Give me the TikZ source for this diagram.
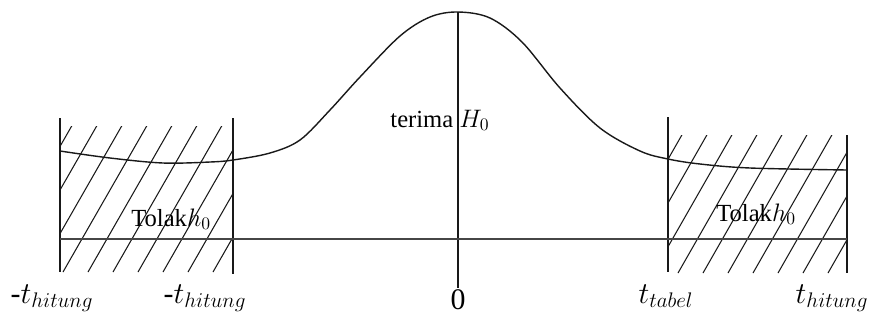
\documentclass[tikz,border=0pt]{standalone}
\usepackage{fontspec}
\setmainfont{Liberation Serif}
\usetikzlibrary{positioning}
\definecolor{inkline}{RGB}{25,25,25}
\definecolor{baseink}{RGB}{70,70,70}

\tikzset{
  axisline/.style={inkline,line width=0.8pt},
  hatchline/.style={inkline,line width=0.6pt},
  regionlabel/.style={font=\fontsize{14}{16}\selectfont,inner sep=0pt},
  ticklabel/.style={font=\fontsize{17}{19}\selectfont,inner sep=0pt,anchor=base},
}

\begin{document}
\begin{tikzpicture}[x=0.02cm,y=-0.02cm]
\useasboundingbox (0,0) rectangle (873,326);

%% ── hatched rejection regions ───────────────────────────────────────────────
\begin{scope}
  \clip (60,126) rectangle (233,272);
  \foreach \b in {-37,-12,...,213}{%
    \draw[hatchline] (\b,272) -- ++(86,-150);
  }
\end{scope}
\begin{scope}
  \clip (668,135) rectangle (847,273);
  \foreach \b in {603,628,...,828}{%
    \draw[hatchline] (\b,273) -- ++(80,-140);
  }
\end{scope}

%% ── vertical boundaries ─────────────────────────────────────────────────────
\draw[axisline] (60,118) -- (60,272);
\draw[axisline] (233,118) -- (233,274);
\draw[axisline] (668,117) -- (668,272);
\draw[axisline] (847,135) -- (847,273);
\draw[axisline] (458,12) -- (458,288);

%% ── base line ───────────────────────────────────────────────────────────────
\draw[baseink,line width=1.2pt] (60,239) -- (847,239);

%% ── density curve ───────────────────────────────────────────────────────────
\draw[axisline] plot[smooth,tension=0.55] coordinates {
  (60,151) (110,158) (163,163) (210,162) (233,160) (270,153) (300,140)
  (330,110) (360,77) (400,36) (430,17) (458,12) (490,18) (522,42)
  (560,88) (600,128) (640,151) (668,159) (700,164) (750,168) (847,170)};

%% ── region labels ───────────────────────────────────────────────────────────
\node[regionlabel,anchor=base] (terima) at (440,127) {terima $H_0$};
\node[regionlabel,anchor=base west] (tolakkiri) at (131,226) {Tolak$h_0$};
\node[regionlabel,anchor=base west] (tolakkanan) at (716,221) {Tolak$h_0$};

%% ── axis labels ─────────────────────────────────────────────────────────────
\node[ticklabel] (hitungkiri) at (52,303) {-$t_{hitung}$};
\node[ticklabel] (hitungdua) at (205,303) {-$t_{hitung}$};
\node[ticklabel] (nol) at (458,309) {0};
\node[ticklabel] (tabel) at (666,303) {$t_{tabel}$};
\node[ticklabel] (hitungkanan) at (832,303) {$t_{hitung}$};

\end{tikzpicture}
\end{document}
